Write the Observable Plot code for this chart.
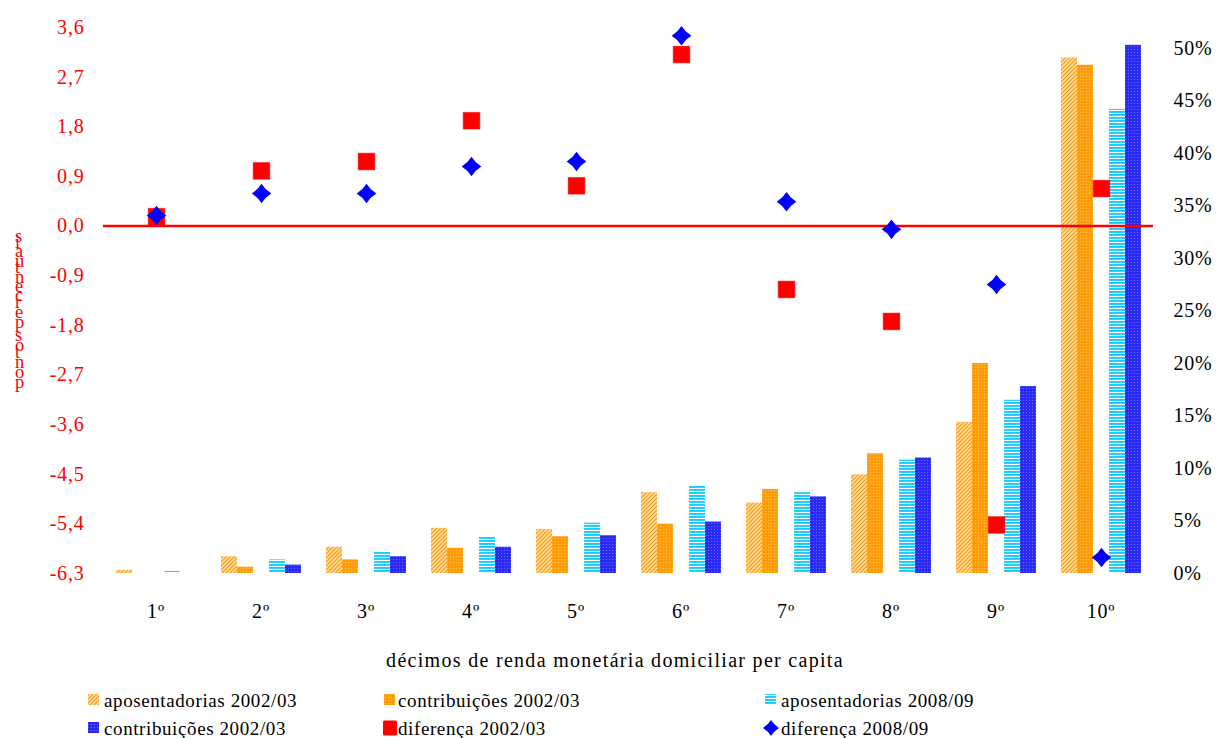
<!DOCTYPE html>
<html>
<head>
<meta charset="utf-8">
<script src="https://cdn.jsdelivr.net/npm/d3@7"></script>
<script src="https://cdn.jsdelivr.net/npm/@observablehq/plot@0.6"></script>
<style>
  body { margin: 0; background: #fff; font-family: "Liberation Serif", serif; }
  #chart { position: relative; width: 1220px; height: 738px; overflow: hidden; }
  #chart svg { display: block; }
</style>
</head>
<body>
<div id="chart"></div>
<script>
// Décimos de renda monetária domiciliar per capita
const deciles = ["1º", "2º", "3º", "4º", "5º", "6º", "7º", "8º", "9º", "10º"];

// Bar series: share of each decile (%), right axis
const aposentadorias0203 = [0.3, 1.6, 2.5, 4.3, 4.2, 7.7, 6.7, 9.4, 14.4, 49.1];
const contribuicoes0203  = [0.0, 0.6, 1.3, 2.4, 3.5, 4.7, 8.0, 11.4, 20.0, 48.4];
const aposentadorias0809 = [0.2, 1.3, 2.1, 3.5, 4.8, 8.3, 7.7, 10.8, 16.5, 44.2];
const contribuicoes0809  = [0.0, 0.8, 1.6, 2.5, 3.6, 4.9, 7.3, 11.0, 17.8, 50.3];

// Differences in percentage points, left axis
const diferenca0203 = [0.17, 1.0, 1.17, 1.91, 0.73, 3.11, -1.15, -1.73, -5.42, 0.68];
const diferenca0809 = [0.19, 0.59, 0.59, 1.08, 1.17, 3.45, 0.44, -0.06, -1.06, -6.01];

// Axis ticks
const leftTicks = [3.6, 2.7, 1.8, 0.9, 0.0, -0.9, -1.8, -2.7, -3.6, -4.5, -5.4, -6.3];
const rightTicks = [0, 5, 10, 15, 20, 25, 30, 35, 40, 45, 50];
const leftDomain = [-6.3, 3.6];
const rightDomain = [0, 52];

// Text
const barSeries = ["apos02", "contr02", "apos08", "contr08"];
const slotOrder = ["apos02", "contr02", "diff", "apos08", "contr08"];
const legendLabels = [
  "aposentadorias 2002/03", "contribuições 2002/03", "aposentadorias 2008/09",
  "contribuições 2002/03", "diferença 2002/03", "diferença 2008/09"
];
const xTitle = "décimos de renda monetária domiciliar per capita";
const yTitle = "pontos percentuais";

// Map a left-axis value onto the shared (right-axis) vertical scale
const toRight = v => (v - leftDomain[0]) / (leftDomain[1] - leftDomain[0]) * (rightDomain[1] - rightDomain[0]) + rightDomain[0];
const fromRight = v => (v - rightDomain[0]) / (rightDomain[1] - rightDomain[0]) * (leftDomain[1] - leftDomain[0]) + leftDomain[0];
const fmtComma = v => (Math.abs(v) < 1e-9 ? 0 : v).toFixed(1).replace(".", ",");

const barValues = {apos02: aposentadorias0203, contr02: contribuicoes0203, apos08: aposentadorias0809, contr08: contribuicoes0809};
const bars = deciles.flatMap((d, i) => barSeries.map(s => ({decile: d, series: s, value: barValues[s][i]})));
const diff0203 = deciles.map((d, i) => ({decile: d, value: diferenca0203[i]}));
const diff0809 = deciles.map((d, i) => ({decile: d, value: diferenca0809[i]}));

// Fill patterns shared by the chart and the legend
const defs = d3.select("#chart").append("svg")
  .attr("width", 0).attr("height", 0)
  .style("position", "absolute")
  .append("defs");

function pattern(id, w, h, build) {
  const p = defs.append("pattern").attr("id", id)
    .attr("patternUnits", "userSpaceOnUse").attr("width", w).attr("height", h);
  build(p);
}
pattern("p-apos02", 4, 4, p => {
  p.append("rect").attr("width", 4).attr("height", 4).attr("fill", "#FFE3B0");
  p.append("path").attr("d", "M-1,1 L1,-1 M0,4 L4,0 M3,5 L5,3")
    .attr("stroke", "#FFA21C").attr("stroke-width", 1.5);
});
pattern("p-contr02", 3, 3, p => {
  p.append("rect").attr("width", 3).attr("height", 3).attr("fill", "#FF9C08");
  p.append("circle").attr("cx", 1.5).attr("cy", 1.5).attr("r", 0.55).attr("fill", "#FFC466");
});
pattern("p-apos08", 3, 3, p => {
  p.append("rect").attr("width", 3).attr("height", 3).attr("fill", "#FFFFFF");
  p.append("rect").attr("width", 3).attr("height", 1.9).attr("fill", "#16CCFF");
});
pattern("p-contr08", 3, 3, p => {
  p.append("rect").attr("width", 3).attr("height", 3).attr("fill", "#2A2AF2");
  p.append("circle").attr("cx", 1.5).attr("cy", 1.5).attr("r", 0.6).attr("fill", "#7070FF");
});
const fills = ["url(#p-apos02)", "url(#p-contr02)", "url(#p-apos08)", "url(#p-contr08)"];

// Four-pointed diamond marker
const diamond = {
  draw(ctx, size) {
    const r = Math.sqrt(size / Math.PI), c = r * 0.38;
    ctx.moveTo(0, -r);
    ctx.quadraticCurveTo(c, -c, r, 0);
    ctx.quadraticCurveTo(c, c, 0, r);
    ctx.quadraticCurveTo(-c, c, -r, 0);
    ctx.quadraticCurveTo(-c, -c, 0, -r);
    ctx.closePath();
  }
};

const font = "'Liberation Serif', serif";

const chart = Plot.plot({
  width: 1220,
  height: 675,
  marginTop: 27,
  marginBottom: 102,
  marginLeft: 101,
  marginRight: 65,
  style: {fontFamily: font, fontSize: "20px", background: "#fff", overflow: "visible"},
  fx: {domain: deciles, padding: 0, label: null},
  x: {domain: slotOrder, paddingInner: 0, paddingOuter: 0.675, axis: null},
  y: {domain: rightDomain, axis: null},
  color: {domain: barSeries, range: fills},
  marks: [
    Plot.rectY(bars, {fx: "decile", x: "series", y: "value", fill: "series"}),
    Plot.ruleY([0], {y: v => toRight(v), stroke: "#FF0000", strokeWidth: 2.5}),
    Plot.dot(diff0203, {fx: "decile", x: () => "diff", y: d => toRight(d.value),
      symbol: "square", r: 9.4, fill: "#FF0000", stroke: "#FF0000", strokeWidth: 0.5, strokeLinejoin: "round"}),
    Plot.dot(diff0809, {fx: "decile", x: () => "diff", y: d => toRight(d.value),
      symbol: diamond, r: 9.8, fill: "#0000FF"}),
    Plot.axisY(leftTicks.map(toRight), {anchor: "left", tickSize: 0, tickPadding: 19,
      color: "#FF0000", tickFormat: d => fmtComma(fromRight(d)), label: null}),
    Plot.axisY(rightTicks, {anchor: "right", tickSize: 0, tickPadding: 20,
      color: "#000", tickFormat: d => d + "%", label: null}),
    Plot.axisFx({anchor: "bottom", tickSize: 0, tickPadding: 30, color: "#000", label: null})
  ]
});
document.getElementById("chart").appendChild(chart);

const svg = d3.select(chart);
svg.selectAll("text").style("letter-spacing", "0.8px");

// Horizontal axis title
svg.append("text")
  .attr("x", 615).attr("y", 660)
  .attr("text-anchor", "middle").attr("dominant-baseline", "central")
  .style("font-family", font).style("font-size", "20px").style("letter-spacing", "1.3px")
  .attr("fill", "#000")
  .text(xTitle);

// Vertical axis title: the line runs bottom to top while each glyph stays upright
svg.append("text")
  .attr("transform", "translate(15,388) rotate(-90)")
  .attr("rotate", 90)
  .attr("text-anchor", "start")
  .attr("fill", "#FF0000")
  .style("font-family", font).style("font-size", "18.5px").style("letter-spacing", "0.9px")
  .text(yTitle);

// Legend below the plot
const legend = d3.select("#chart").append("svg")
  .attr("width", 1220).attr("height", 63)
  .style("font-family", font);
const cols = [[88, 104], [384, 398], [765, 781]];
const rows = [25, 53];
const swatches = [
  {kind: "rect", fill: fills[0]}, {kind: "rect", fill: fills[1]}, {kind: "rect", fill: fills[2]},
  {kind: "rect", fill: fills[3]}, {kind: "square", fill: "#FF0000"}, {kind: "diamond", fill: "#0000FF"}
];
legendLabels.forEach((label, i) => {
  const [sx, tx] = cols[i % 3];
  const cy = rows[Math.floor(i / 3)];
  const sw = swatches[i];
  if (sw.kind === "rect") {
    legend.append("rect").attr("x", sx).attr("y", cy - 6).attr("width", 11).attr("height", 11).attr("fill", sw.fill);
  } else if (sw.kind === "square") {
    legend.append("rect").attr("x", sx - 1).attr("y", cy - 7.5).attr("width", 14).attr("height", 15).attr("rx", 1.5).attr("fill", sw.fill);
  } else {
    legend.append("path").attr("transform", `translate(${sx + 6},${cy})`)
      .attr("d", d3.symbol(diamond, Math.PI * 8 * 8)()).attr("fill", sw.fill);
  }
  legend.append("text")
    .attr("x", tx).attr("y", cy)
    .attr("dominant-baseline", "central")
    .style("font-size", "19px").style("letter-spacing", "0.6px")
    .attr("fill", "#000")
    .text(label);
});
</script>
</body>
</html>
